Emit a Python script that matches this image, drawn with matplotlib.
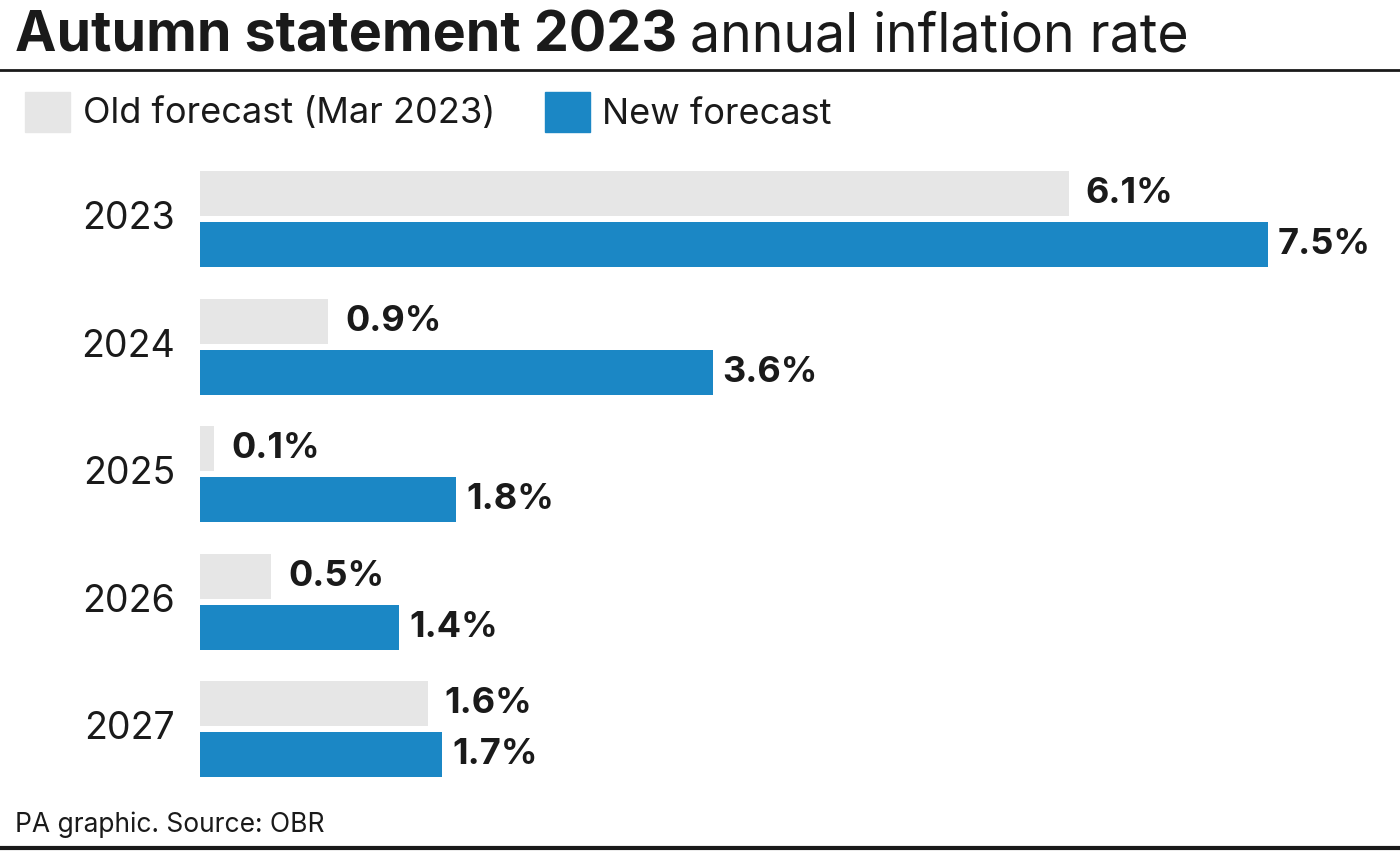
import matplotlib.pyplot as plt
from matplotlib.lines import Line2D
from matplotlib.patches import Rectangle

years = ["2023", "2024", "2025", "2026", "2027"]
old_forecast = [6.1, 0.9, 0.1, 0.5, 1.6]
new_forecast = [7.5, 3.6, 1.8, 1.4, 1.7]

GREY = "#e6e6e6"
BLUE = "#1b87c5"
INK = "#1a1a1a"

plt.rcParams['font.family'] = ['Inter', 'DejaVu Sans']

W, H = 1400, 851
fig = plt.figure(figsize=(W / 100, H / 100), dpi=100)

# title, bold part then regular part
t1 = fig.text(15 / W, 1 - 52 / H, "Autumn statement 2023", fontsize=40,
              fontweight='bold', color=INK, va='baseline')
fig.canvas.draw()
bb = t1.get_window_extent()
fig.text((bb.x1 + 13) / W, 1 - 52 / H, "annual inflation rate", fontsize=38.5,
         color=INK, va='baseline')

fig.add_artist(Line2D([0, 1], [1 - 70 / H, 1 - 70 / H], color=INK, lw=2))
fig.add_artist(Line2D([0, 1], [1 - 848 / H, 1 - 848 / H], color=INK, lw=3))

# legend
fig.add_artist(Rectangle((25 / W, 1 - 132 / H), 45 / W, 40 / H, color=GREY,
                         transform=fig.transFigure))
fig.text(83 / W, 1 - 114 / H, "Old forecast (Mar 2023)", fontsize=26,
         color=INK, va='center')
fig.add_artist(Rectangle((545 / W, 1 - 132 / H), 45 / W, 40 / H, color=BLUE,
                         transform=fig.transFigure))
fig.text(602 / W, 1 - 114 / H, "New forecast", fontsize=26,
         color=INK, va='center')

fig.text(15 / W, 1 - 825 / H, "PA graphic. Source: OBR", fontsize=19,
         color=INK, va='center')

# bars
px_per_pct = 142.4
ax = fig.add_axes([200 / W, 0, (W - 200) / W, 1])
ax.set_xlim(0, (W - 200) / px_per_pct)
pitch = 127.5
ax.set_ylim((H - 219) / pitch, -219 / pitch)
ax.axis('off')

bh = 45 / pitch
off = 25.5 / pitch
for i, (y, o, n) in enumerate(zip(years, old_forecast, new_forecast)):
    ax.barh(i - off, o, height=bh, color=GREY)
    ax.barh(i + off, n, height=bh, color=BLUE)
    ax.text(o + 17 / px_per_pct, i - off, f"{o}%", fontsize=26,
            fontweight='bold', color=INK, va='center')
    ax.text(n + 10 / px_per_pct, i + off, f"{n}%", fontsize=26,
            fontweight='bold', color=INK, va='center')
    ax.text(-25 / px_per_pct, i, y, fontsize=27, color=INK,
            va='center', ha='right', clip_on=False)

fig.savefig("out.png", dpi=100)
